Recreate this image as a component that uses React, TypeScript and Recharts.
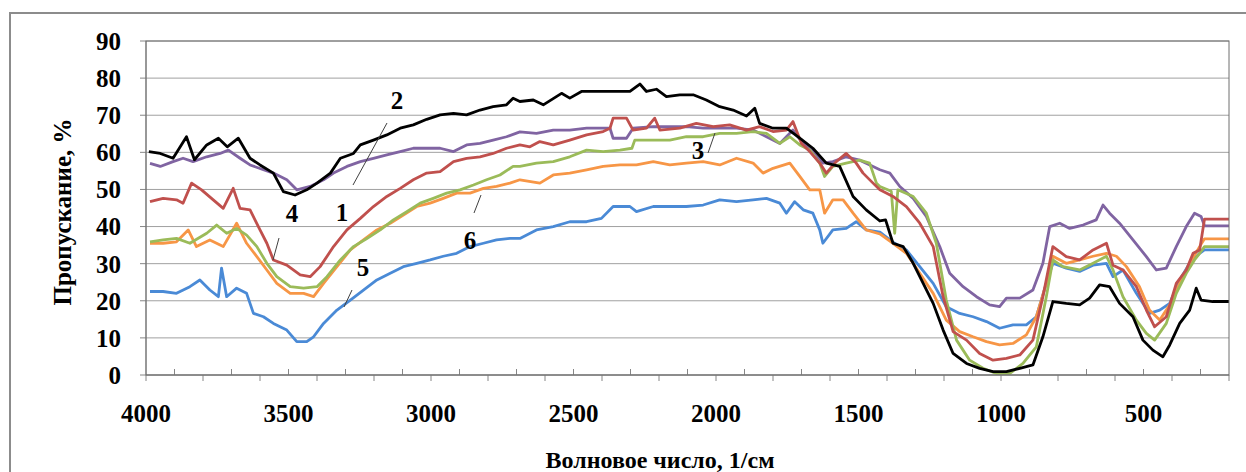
import React from 'react';
import { LineChart, Line, XAxis, YAxis, CartesianGrid } from 'recharts';

// ---- data (wavenumber, cm-1 / transmittance, %) ----
const blackWn = [3990, 3950, 3905, 3858, 3830, 3787, 3746, 3715, 3676, 3635, 3600, 3553, 3518, 3477, 3436, 3400, 3353, 3318, 3272, 3248, 3202, 3155, 3108, 3062, 3015, 2968, 2921, 2875, 2828, 2782, 2735, 2712, 2688, 2641, 2606, 2542, 2513, 2472, 2408, 2337, 2302, 2267, 2244, 2209, 2174, 2127, 2080, 2034, 1987, 1940, 1893, 1864, 1847, 1800, 1753, 1706, 1660, 1613, 1566, 1519, 1473, 1425, 1405, 1379, 1343, 1308, 1273, 1238, 1203, 1168, 1121, 1075, 1028, 981, 934, 888, 853, 818, 771, 724, 689, 654, 619, 584, 537, 502, 467, 432, 408, 373, 338, 315, 298, 257, 200];
const blackT = [60.2, 59.7, 58.4, 64.2, 58, 62, 63.8, 61.5, 63.8, 58.4, 56.6, 54.4, 49.4, 48.5, 49.9, 51.7, 54.4, 58.4, 59.7, 62, 63.3, 64.7, 66.5, 67.4, 68.9, 70.1, 70.5, 70.1, 71.4, 72.3, 72.8, 74.6, 73.7, 74.1, 72.8, 75.9, 74.6, 76.4, 76.4, 76.4, 76.4, 78.4, 76.4, 77, 75, 75.5, 75.5, 74.1, 72.3, 71.4, 69.8, 71.9, 67.8, 66.5, 66.5, 63.8, 61.1, 57.1, 56.2, 48.1, 44.5, 41.5, 41.8, 35.5, 34.6, 30.1, 24.7, 19.3, 12.1, 5.8, 3.1, 1.8, 0.9, 0.9, 1.8, 2.7, 10.3, 19.8, 19.3, 18.9, 20.7, 24.3, 23.8, 19.3, 15.7, 9.4, 6.7, 4.9, 8.1, 13.9, 17.5, 23.4, 20.2, 19.8, 19.8];

const purpleWn = [3986, 3950, 3905, 3870, 3835, 3787, 3740, 3711, 3670, 3635, 3588, 3553, 3506, 3471, 3424, 3377, 3342, 3295, 3248, 3202, 3155, 3108, 3062, 3015, 2968, 2921, 2875, 2828, 2782, 2735, 2688, 2630, 2571, 2513, 2454, 2396, 2372, 2361, 2314, 2291, 2220, 2162, 2104, 2045, 1987, 1928, 1870, 1823, 1776, 1730, 1695, 1660, 1625, 1590, 1543, 1496, 1449, 1425, 1390, 1355, 1308, 1262, 1215, 1180, 1133, 1086, 1040, 1005, 981, 934, 888, 853, 829, 794, 759, 712, 666, 642, 619, 584, 537, 490, 455, 420, 385, 350, 321, 298, 286, 200];
const purpleT = [57, 56.2, 57.5, 58.4, 57.5, 58.8, 59.7, 60.6, 58.4, 56.6, 55.3, 54.4, 52.6, 49.9, 50.8, 52.6, 54.4, 56.2, 57.5, 58.4, 59.3, 60.2, 61.1, 61.1, 61.1, 60.2, 62, 62.4, 63.3, 64.2, 65.5, 65.1, 66, 66, 66.5, 66.5, 66.5, 63.8, 63.8, 66.5, 66.9, 66.9, 66.9, 66.5, 66.5, 66.5, 66, 64.2, 62.4, 66, 62.4, 60.6, 57.1, 57.5, 58.8, 57.9, 56.2, 55.3, 54.4, 50.8, 47.6, 42.7, 34.6, 27.4, 23.8, 21.1, 18.9, 18.4, 20.7, 20.7, 22.9, 30.1, 40, 40.9, 39.5, 40.4, 41.8, 45.8, 43.6, 40.9, 36.4, 31.9, 28.3, 28.8, 34.6, 40, 43.6, 42.7, 40.2, 40.2];

const redWn = [3986, 3940, 3893, 3870, 3840, 3805, 3764, 3729, 3694, 3670, 3635, 3600, 3576, 3553, 3506, 3459, 3424, 3389, 3342, 3295, 3248, 3202, 3155, 3108, 3062, 3015, 2968, 2921, 2875, 2828, 2782, 2735, 2688, 2653, 2618, 2571, 2513, 2454, 2396, 2372, 2361, 2314, 2291, 2244, 2215, 2197, 2127, 2069, 2010, 1952, 1893, 1847, 1800, 1753, 1730, 1700, 1671, 1636, 1613, 1578, 1543, 1508, 1484, 1449, 1425, 1379, 1332, 1285, 1238, 1203, 1168, 1121, 1075, 1028, 981, 934, 888, 853, 818, 771, 724, 677, 630, 607, 572, 525, 490, 461, 420, 385, 350, 326, 303, 286, 200];
const redT = [46.7, 47.6, 47.2, 46.3, 51.7, 49.9, 47.2, 44.9, 50.3, 44.9, 44.5, 39.1, 35.5, 31, 29.6, 27, 26.5, 29.2, 34.6, 39.1, 42.2, 45.4, 48.1, 50.3, 52.6, 54.4, 54.8, 57.5, 58.4, 58.8, 59.7, 61.1, 62, 61.5, 62.9, 62, 63.3, 64.7, 65.6, 66.5, 69.2, 69.2, 66, 66.5, 69.2, 66, 66.5, 67.8, 66.9, 67.4, 66, 66.9, 65.6, 66, 68.3, 62.4, 60.2, 57.1, 54.4, 57.5, 59.7, 57.1, 54.4, 51.7, 49.9, 48.1, 45.4, 40.9, 34.6, 21.1, 11.7, 9.4, 5.8, 4, 4.5, 5.4, 9.4, 21.1, 34.6, 31.9, 31, 33.7, 35.5, 29.6, 28.3, 23.8, 17.5, 13, 15.7, 24.7, 28.3, 32.8, 33.7, 42, 42];

const greenWn = [3986, 3940, 3893, 3846, 3787, 3752, 3717, 3682, 3647, 3611, 3576, 3541, 3494, 3447, 3400, 3365, 3318, 3272, 3225, 3178, 3132, 3085, 3038, 2992, 2945, 2898, 2851, 2805, 2758, 2712, 2688, 2630, 2571, 2513, 2454, 2396, 2337, 2295, 2285, 2220, 2162, 2104, 2045, 1987, 1928, 1870, 1823, 1776, 1741, 1706, 1671, 1636, 1619, 1590, 1543, 1496, 1461, 1437, 1425, 1385, 1373, 1362, 1308, 1262, 1227, 1192, 1156, 1110, 1063, 1016, 970, 923, 876, 841, 818, 783, 724, 677, 630, 607, 572, 525, 490, 461, 420, 385, 350, 321, 303, 286, 200];
const greenT = [35.9, 36.4, 36.8, 35.5, 38.2, 40.4, 38.2, 39.5, 37.7, 34.6, 30.1, 26.5, 23.8, 23.4, 23.8, 26.5, 31, 34.6, 36.8, 39.1, 41.8, 44, 46.3, 47.6, 49, 49.9, 51.2, 52.6, 53.9, 56.2, 56.2, 57.1, 57.5, 58.8, 60.6, 60.2, 60.6, 61.1, 63.3, 63.3, 63.3, 64.2, 64.2, 65.1, 65.1, 65.6, 65.1, 62.4, 64.2, 62, 60.6, 57.1, 53.5, 56.2, 57.1, 57.9, 57.1, 51.7, 50.8, 49.5, 38.2, 49.9, 48.1, 43.6, 35.5, 20.2, 9.4, 4, 1.8, 0.4, 0.4, 3.1, 7.6, 21.1, 31, 29.2, 28.3, 30.1, 32, 28.3, 21.1, 14.8, 11.2, 9.4, 13.9, 22, 27.4, 31, 32.8, 34.6, 34.6];

const orangeWn = [3986, 3940, 3893, 3852, 3823, 3776, 3729, 3682, 3647, 3611, 3576, 3541, 3494, 3447, 3412, 3377, 3330, 3283, 3237, 3190, 3143, 3097, 3050, 3003, 2957, 2910, 2863, 2816, 2770, 2723, 2688, 2618, 2571, 2513, 2454, 2396, 2337, 2279, 2220, 2162, 2104, 2045, 1987, 1928, 1870, 1835, 1800, 1741, 1706, 1671, 1636, 1619, 1590, 1554, 1519, 1473, 1425, 1379, 1332, 1285, 1238, 1192, 1145, 1098, 1051, 1005, 958, 911, 876, 841, 818, 771, 724, 677, 630, 595, 560, 514, 479, 443, 408, 373, 338, 303, 286, 200];
const orangeT = [35.5, 35.5, 35.9, 39.1, 34.6, 36.4, 34.6, 40.9, 35.5, 31.9, 28.3, 24.7, 22, 22, 21.1, 24.7, 29.2, 33.7, 36.4, 39.1, 40.9, 43.1, 45.4, 46.3, 47.6, 49, 49, 50.3, 50.8, 51.7, 52.6, 51.7, 53.9, 54.4, 55.3, 56.2, 56.6, 56.6, 57.5, 56.6, 57.1, 57.5, 56.6, 58.4, 57.1, 54.4, 55.7, 57.1, 53.5, 49.9, 49.9, 43.6, 47.2, 47.2, 43.6, 39.1, 38, 35.5, 32.8, 27.4, 22, 14.8, 11.7, 10.3, 9, 8.1, 8.5, 10.8, 15.7, 24.7, 32, 30.1, 31, 32, 32.8, 32, 29.2, 23.8, 17.5, 14.8, 18.9, 24.7, 30.1, 34.6, 36.7, 36.7];

const blueWn = [3986, 3940, 3893, 3846, 3811, 3776, 3746, 3735, 3717, 3682, 3647, 3623, 3588, 3553, 3506, 3471, 3436, 3412, 3377, 3330, 3283, 3237, 3190, 3143, 3097, 3050, 3003, 2957, 2910, 2863, 2816, 2770, 2723, 2688, 2630, 2571, 2513, 2454, 2402, 2361, 2302, 2279, 2220, 2162, 2104, 2045, 1987, 1928, 1870, 1823, 1776, 1753, 1724, 1694, 1660, 1636, 1625, 1590, 1543, 1508, 1473, 1425, 1379, 1332, 1285, 1238, 1192, 1145, 1098, 1051, 1005, 958, 911, 876, 841, 818, 771, 724, 677, 630, 607, 572, 525, 479, 443, 408, 373, 338, 303, 286, 200];
const blueT = [22.5, 22.5, 22, 23.8, 25.6, 22.9, 21.1, 28.8, 21.1, 23.4, 22, 16.6, 15.7, 13.9, 12.1, 9, 9, 10.3, 13.9, 17.5, 20.2, 22.9, 25.6, 27.4, 29.2, 30.1, 31, 32, 32.8, 34.6, 35.5, 36.4, 36.8, 36.8, 39.1, 40, 41.3, 41.3, 42.2, 45.4, 45.4, 44, 45.4, 45.4, 45.4, 45.8, 47.2, 46.7, 47.2, 47.6, 46.3, 43.6, 46.7, 44.5, 43.6, 39.1, 35.5, 39.1, 39.5, 41.3, 39.1, 38.5, 35.8, 33.7, 29.2, 24.7, 18.4, 16.6, 15.7, 14.4, 12.6, 13.5, 13.5, 15.7, 24.7, 30.1, 28.8, 27.9, 29.6, 30.1, 26.5, 28.3, 22, 16.6, 17.5, 19.3, 25.6, 30.1, 32.8, 33.7, 33.7];

const xLabelValues = [4000, 3500, 3000, 2500, 2000, 1500, 1000, 500];
const yTickValues = [0, 10, 20, 30, 40, 50, 60, 70, 80, 90];
const xTickValues: number[] = [];
for (let v = 4000; v >= 200; v -= 100) xTickValues.push(v);

const curveLabels = ['1', '2', '3', '4', '5', '6'];

const toData = (wn: number[], t: number[]) => wn.map((w, i) => ({ wn: w, t: t[i] }));

const series = [
  { key: 'blue', color: '#4A8AD6', data: toData(blueWn, blueT) },
  { key: 'orange', color: '#F79646', data: toData(orangeWn, orangeT) },
  { key: 'purple', color: '#8064A2', data: toData(purpleWn, purpleT) },
  { key: 'green', color: '#9BBB59', data: toData(greenWn, greenT) },
  { key: 'red', color: '#C0504D', data: toData(redWn, redT) },
  { key: 'black', color: '#000000', data: toData(blackWn, blackT) },
];

const FONT = '"Liberation Serif", "Times New Roman", serif';
const AXIS_GRAY = '#868686';

const XTick = (props: any) => {
  const { x, y, payload } = props;
  const v = payload.value as number;
  const major = (4000 - v) % 200 === 0;
  return (
    <g>
      <line x1={x} y1={y} x2={x} y2={major ? y + 6 : y - 6} stroke={AXIS_GRAY} strokeWidth={1} />
      {xLabelValues.includes(v) && (
        <text x={x} y={y + 47} textAnchor="middle" fontFamily={FONT} fontWeight="bold" fontSize={25} fill="#000">
          {v}
        </text>
      )}
    </g>
  );
};

const annotations = [
  { label: curveLabels[1], x: 397, y: 100, line: [387, 123, 353, 185] },
  { label: curveLabels[0], x: 342, y: 212, line: null },
  { label: curveLabels[3], x: 292, y: 213, line: [279, 238, 273, 260] },
  { label: curveLabels[4], x: 363, y: 267, line: [352, 290, 344, 307] },
  { label: curveLabels[5], x: 470, y: 240, line: [481, 195, 474, 213] },
  { label: curveLabels[2], x: 698, y: 150, line: [715, 133, 708, 153] },
];

export default function App() {
  return (
    <div style={{ position: 'absolute', left: 0, top: 0, width: 1246, height: 472, background: '#fff', overflow: 'hidden' }}>
      <LineChart width={1246} height={472} margin={{ top: 41, right: 17, left: 0, bottom: 0 }}>
        <CartesianGrid vertical={false} stroke="#a0a0a0" strokeWidth={1} />
        <XAxis
          type="number"
          dataKey="wn"
          domain={[200, 4000]}
          reversed
          allowDataOverflow
          ticks={xTickValues}
          interval={0}
          tick={<XTick />}
          tickLine={false}
          tickSize={0}
          tickMargin={0}
          axisLine={{ stroke: AXIS_GRAY }}
          height={97}
        />
        <YAxis
          type="number"
          domain={[0, 90]}
          ticks={yTickValues}
          interval={0}
          width={146}
          tickSize={6}
          tickMargin={19}
          tickLine={{ stroke: AXIS_GRAY }}
          axisLine={{ stroke: AXIS_GRAY }}
          tick={{ fontFamily: FONT, fontWeight: 'bold', fontSize: 25, fill: '#000' }}
          allowDataOverflow
        />
        {series.map((s) => (
          <Line
            key={s.key}
            data={s.data}
            dataKey="t"
            type="linear"
            stroke={s.color}
            strokeWidth={2.8}
            dot={false}
            isAnimationActive={false}
            strokeLinejoin="round"
          />
        ))}
      </LineChart>
      <svg width={1246} height={472} style={{ position: 'absolute', left: 0, top: 0, pointerEvents: 'none' }}>
        <path d="M 10 472 L 10 13 L 1246 13" fill="none" stroke="#8c8c8c" strokeWidth={2} />
        <rect x={146} y={41} width={1083} height={334} fill="none" stroke="#6e6e6e" strokeWidth={1} />
        <text
          x={62}
          y={212}
          transform="rotate(-90 62 212)"
          textAnchor="middle"
          dominantBaseline="central"
          fontFamily={FONT}
          fontWeight="bold"
          fontSize={25}
        >
          Пропускание, %
        </text>
        <text x={660} y={468} textAnchor="middle" fontFamily={FONT} fontWeight="bold" fontSize={24}>
          Волновое число, 1/см
        </text>
        {annotations.map((a) => (
          <g key={a.label}>
            {a.line && (
              <line x1={a.line[0]} y1={a.line[1]} x2={a.line[2]} y2={a.line[3]} stroke="#404040" strokeWidth={1} />
            )}
            <text x={a.x} y={a.y} textAnchor="middle" dominantBaseline="central" fontFamily={FONT} fontWeight="bold" fontSize={25}>
              {a.label}
            </text>
          </g>
        ))}
      </svg>
    </div>
  );
}
